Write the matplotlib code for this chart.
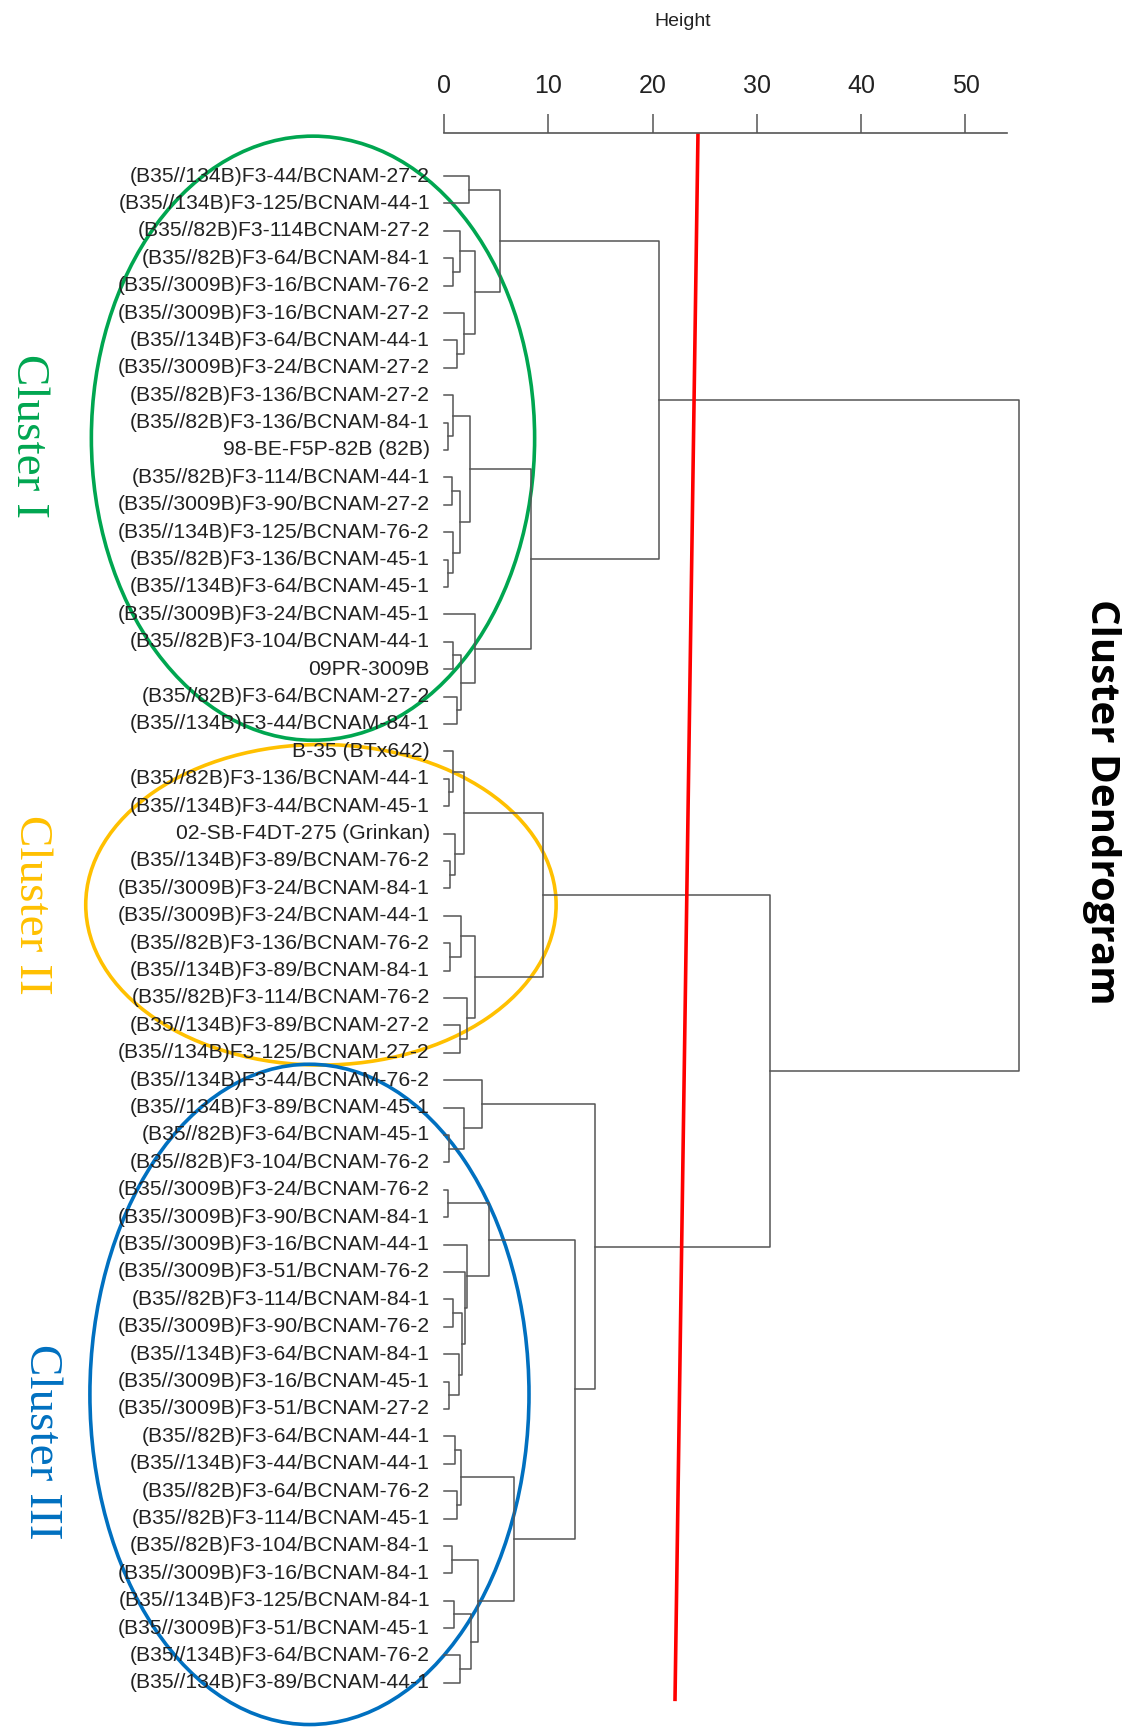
import matplotlib.pyplot as plt
from matplotlib.patches import Ellipse

# Leaf labels, top to bottom
leaves = [
    "(B35//134B)F3-44/BCNAM-27-2", "(B35//134B)F3-125/BCNAM-44-1", "(B35//82B)F3-114BCNAM-27-2",
    "(B35//82B)F3-64/BCNAM-84-1", "(B35//3009B)F3-16/BCNAM-76-2", "(B35//3009B)F3-16/BCNAM-27-2",
    "(B35//134B)F3-64/BCNAM-44-1", "(B35//3009B)F3-24/BCNAM-27-2", "(B35//82B)F3-136/BCNAM-27-2",
    "(B35//82B)F3-136/BCNAM-84-1", "98-BE-F5P-82B (82B)", "(B35//82B)F3-114/BCNAM-44-1",
    "(B35//3009B)F3-90/BCNAM-27-2", "(B35//134B)F3-125/BCNAM-76-2", "(B35//82B)F3-136/BCNAM-45-1",
    "(B35//134B)F3-64/BCNAM-45-1", "(B35//3009B)F3-24/BCNAM-45-1", "(B35//82B)F3-104/BCNAM-44-1",
    "09PR-3009B", "(B35//82B)F3-64/BCNAM-27-2", "(B35//134B)F3-44/BCNAM-84-1",
    "B-35 (BTx642)", "(B35//82B)F3-136/BCNAM-44-1", "(B35//134B)F3-44/BCNAM-45-1",
    "02-SB-F4DT-275 (Grinkan)", "(B35//134B)F3-89/BCNAM-76-2", "(B35//3009B)F3-24/BCNAM-84-1",
    "(B35//3009B)F3-24/BCNAM-44-1", "(B35//82B)F3-136/BCNAM-76-2", "(B35//134B)F3-89/BCNAM-84-1",
    "(B35//82B)F3-114/BCNAM-76-2", "(B35//134B)F3-89/BCNAM-27-2", "(B35//134B)F3-125/BCNAM-27-2",
    "(B35//134B)F3-44/BCNAM-76-2", "(B35//134B)F3-89/BCNAM-45-1", "(B35//82B)F3-64/BCNAM-45-1",
    "(B35//82B)F3-104/BCNAM-76-2", "(B35//3009B)F3-24/BCNAM-76-2", "(B35//3009B)F3-90/BCNAM-84-1",
    "(B35//3009B)F3-16/BCNAM-44-1", "(B35//3009B)F3-51/BCNAM-76-2", "(B35//82B)F3-114/BCNAM-84-1",
    "(B35//3009B)F3-90/BCNAM-76-2", "(B35//134B)F3-64/BCNAM-84-1", "(B35//3009B)F3-16/BCNAM-45-1",
    "(B35//3009B)F3-51/BCNAM-27-2", "(B35//82B)F3-64/BCNAM-44-1", "(B35//134B)F3-44/BCNAM-44-1",
    "(B35//82B)F3-64/BCNAM-76-2", "(B35//82B)F3-114/BCNAM-45-1", "(B35//82B)F3-104/BCNAM-84-1",
    "(B35//3009B)F3-16/BCNAM-84-1", "(B35//134B)F3-125/BCNAM-84-1", "(B35//3009B)F3-51/BCNAM-45-1",
    "(B35//134B)F3-64/BCNAM-76-2", "(B35//134B)F3-89/BCNAM-44-1",
]

# hclust-style merge table: negative = leaf number, positive = earlier merge step
merge_left = [-4, -3, -7, -6, 2, -1, 6, -10, -9, -12, -15, -14, 10, 9, -18, -20, 15, -17, 14, 7,
              -23, -22, -26, -25, 22, -29, -28, -32, -31, 27, 25,
              -36, -35, -34, -38, -42, -45, -44, 36, -41, -40, 35, -47, -49, 43, -51, -53, -55, 47, 46,
              45, 42, 34, 31, 20]
merge_right = [-5, 1, -8, 3, 4, -2, 5, -11, 8, -13, -16, 11, 12, 13, -19, -21, 16, 17, 18, 19,
               -24, 21, -27, 23, 24, -30, 26, -33, 28, 29, 30,
               -37, 32, 33, -39, -43, -46, 37, 38, 39, 40, 41, -48, -50, 44, -52, -54, -56, 48, 49,
               50, 51, 52, 53, 54]
merge_height = [0.9, 1.5, 1.2, 1.9, 3.0, 2.4, 5.4, 0.4, 0.9, 0.8, 0.4, 0.9, 1.5, 2.5, 0.9, 1.2, 1.6, 3.0, 8.3, 20.6,
                0.5, 0.9, 0.6, 1.1, 1.9, 0.6, 1.6, 1.5, 2.2, 3.0, 9.5,
                0.5, 1.9, 3.6, 0.4, 0.9, 0.5, 1.4, 1.7, 2.0, 2.2, 4.3, 1.1, 1.2, 1.6, 0.8, 1.0, 1.5, 2.6, 3.3,
                6.7, 12.6, 14.5, 31.3, 55.1]

ticks = [0, 10, 20, 30, 40, 50]

fig = plt.figure(figsize=(11.31, 17.27), dpi=100)
ax = fig.add_axes([0, 0, 1, (1727 - 133) / 1727])
ax.set_xlim(-42.57, 65.87)
ax.set_ylim(57.61, -0.57)

line_col = '#555555'
pos = {}
hgt = {}


def node(i):
    if i < 0:
        return -i, 0.0
    return pos[i], hgt[i]


for k in range(len(merge_height)):
    l_pos, l_h = node(merge_left[k])
    r_pos, r_h = node(merge_right[k])
    h = merge_height[k]
    ax.plot([l_h, h, h, r_h], [l_pos, l_pos, r_pos, r_pos], color=line_col, lw=1.1)
    pos[k + 1] = (l_pos + r_pos) / 2
    hgt[k + 1] = h

for i, name in enumerate(leaves):
    ax.text(-1.35, i + 1, name, ha='right', va='center', fontsize=15.2,
            family='Liberation Sans', color='#222222')

# axis on top
for s in ['left', 'right', 'bottom']:
    ax.spines[s].set_visible(False)
ax.spines['top'].set_bounds(0, 54)
ax.spines['top'].set_color(line_col)
ax.spines['top'].set_linewidth(1.2)
ax.xaxis.tick_top()
ax.set_xticks(ticks)
ax.set_xticklabels([str(t) for t in ticks], family='Liberation Sans')
ax.tick_params(axis='x', direction='out', length=14, width=1.1, colors=line_col,
               labelcolor='#222222', labelsize=18, pad=11)
ax.set_yticks([])
fig.text(683 / 1131, 1 - 22 / 1727, 'Height', ha='center', va='center', fontsize=14,
         family='Liberation Sans', color='#222222')

# cut line
ax.plot([24.35, 22.15], [-0.5, 56.6], color='red', lw=2.6, clip_on=False)

# cluster ellipses and names
clusters = [('Cluster I', '#00A650', -12.56, 10.57, 42.5, 22.05, 436),
            ('Cluster II', '#FFC000', -11.8, 27.6, 45.1, 11.7, 905),
            ('Cluster III', '#0070C0', -12.9, 45.47, 42.1, 24.1, 1442)]
label_x = [28, 31, 41]
for (name, col, cx, cy, w, h, ty), lx in zip(clusters, label_x):
    ax.add_patch(Ellipse((cx, cy), w, h, fill=False, edgecolor=col, lw=2.6, clip_on=False))
    fig.text(lx / 1131, 1 - ty / 1727, name, rotation=270, ha='center', va='center',
             fontsize=34, family='Liberation Serif', color=col)

fig.text(1101 / 1131, 1 - 802 / 1727, 'Cluster Dendrogram', rotation=270, ha='center',
         va='center', fontsize=29, fontweight='bold', family='Open Sans', color='black')

fig.savefig('out.png', dpi=100)
